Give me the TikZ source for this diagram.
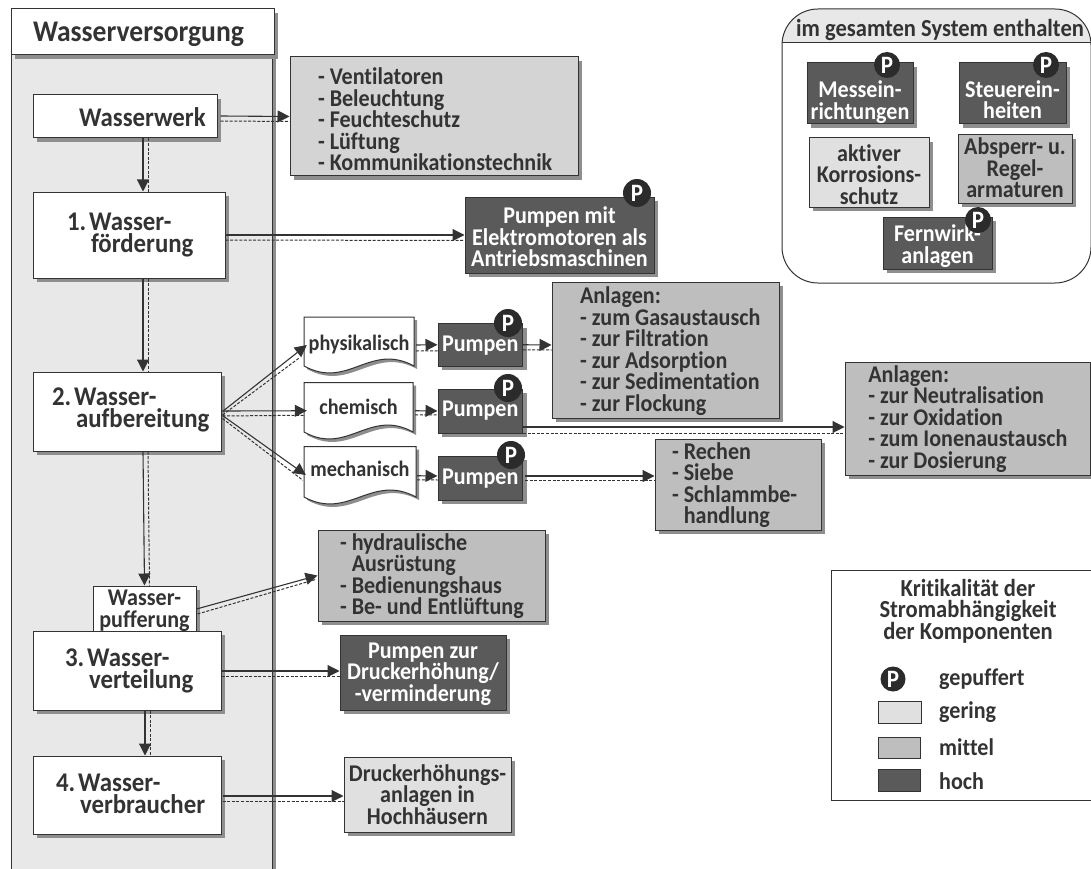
\documentclass[tikz,border=0pt]{standalone}
\usepackage{fontspec}
\usepackage{array}
\setmainfont[FakeStretch=0.92,Ligatures=NoCommon]{Carlito}
\usetikzlibrary{shadows,arrows.meta}
\definecolor{ink}{HTML}{333333}
\definecolor{shadegray}{HTML}{8E8E8E}
\definecolor{panelgray}{HTML}{E8E8E8}
\definecolor{lowgray}{HTML}{E0E0E0}
\definecolor{ventgray}{HTML}{D4D4D4}
\definecolor{midgray}{HTML}{BEBEBE}
\definecolor{highgray}{HTML}{5A5A5A}
\definecolor{pgray}{HTML}{2B2B2B}
\newcommand\fsz[2]{\fontsize{#1}{#2}\selectfont\bfseries}
\tikzset{
  base/.style={draw=ink,line width=1pt,inner sep=0pt,text=ink,align=center,font=\fsz{24}{21.5},
    drop shadow={shadow xshift=4pt,shadow yshift=-4pt,fill=shadegray,opacity=1}},
  whitebox/.style={base,fill=white,font=\fsz{27}{22}},
  ventbox/.style={base,fill=ventgray},
  lowbox/.style={base,fill=lowgray},
  midbox/.style={base,fill=midgray},
  highbox/.style={base,fill=highgray,text=white},
  pmark/.style={circle,fill=pgray,text=white,inner sep=0pt,minimum size=28pt,font=\fsz{25}{25}},
  flow/.style={draw=ink,line width=1.1pt,-{Triangle[length=12pt,width=12pt]}},
  flowdash/.style={draw=ink,line width=1pt,dash pattern=on 3pt off 1.6pt},
  docshape/.style={draw=ink,line width=1pt,fill=white},
  doctext/.style={inner sep=0pt,text=ink,align=center,font=\fsz{22}{21}},
  legendtext/.style={inner sep=0pt,text=ink,font=\fsz{24}{21},anchor=west},
  swatch/.style={draw=ink,line width=0.8pt,inner sep=0pt}
}
% box by corners
\newcommand\bx[7]{%
  \pgfmathsetmacro\myCx{(#3+#5)/2}\pgfmathsetmacro\myCy{(#4+#6)/2}%
  \pgfmathsetmacro\myW{#5-#3}\pgfmathsetmacro\myH{#6-#4}%
  \node[#1,minimum width=\myW pt,minimum height=\myH pt] (#2) at (\myCx,\myCy) {#7};}
% text block with fixed line pitch: alignment, lowering, lines
\newcommand\tb[3]{\raisebox{-#2pt}[0pt][0pt]{\begin{tabular}{@{}>{\setbox0=\hbox\bgroup}#1<{\egroup\ht0=0pt\dp0=0pt\box0}@{}}#3\end{tabular}}}
% left set text block: width, left pad, lowering, lines
\newcommand\ltx[4]{\makebox[#1pt][l]{\hspace*{#2pt}\tb{l}{#3}{#4}}}
\newcommand\ind{\hspace*{24pt}}
% paper with a wavy lower edge
\newcommand\docbx[6]{%
  \pgfmathsetmacro\myCx{(#2+#4)/2}\pgfmathsetmacro\myCy{(#3+#5)/2}%
  \pgfmathsetmacro\myW{#4-#2}\pgfmathsetmacro\myH{#5-#3}%
  \fill[shadegray,shift={(3,3)}] (#2,#3) -- (#4,#3) -- (#4,#5) .. controls (#2+0.6*\myW,#5-24) and (#2+0.4*\myW,#5+24) .. (#2,#5) -- cycle;
  \draw[docshape] (#2,#3) -- (#4,#3) -- (#4,#5) .. controls (#2+0.6*\myW,#5-24) and (#2+0.4*\myW,#5+24) .. (#2,#5) -- cycle;
  \node[doctext,minimum width=\myW pt,minimum height=\myH pt] (#1) at (\myCx,\myCy) {#6};}
% solid arrow + dashed companion, named ends with offsets
\newcommand\pairlink[6]{%
  \draw[flowdash] ([shift={(#5)}]#1) -- ([shift={(#6)}]#3);
  \draw[flow] ([shift={(#2)}]#1) -- ([shift={(#4)}]#3);}
\begin{document}
\begin{tikzpicture}[x=1pt,y=-1pt]
\useasboundingbox (0,0) rectangle (1091,869);
% panel
\fill[shadegray] (15,55) rectangle (276,869);
\fill[panelgray] (11,55) rectangle (272,869);
\draw[ink,line width=1pt] (11,55) -- (11,869) (272,55) -- (272,869);
\bx{whitebox,font=\fsz{30}{30}}{title}{11}{9}{274}{55}{\hspace*{-8pt}\tb{c}{9.5}{Wasserversorgung}}

% left column
\bx{whitebox,font=\fsz{24}{21.5}}{pumpbuf}{93}{586}{196}{645}{\tb{c}{3}{Wasser-\\pufferung}}
\bx{whitebox}{werk}{33}{95}{217}{138}{\ltx{184}{46}{12}{Wasserwerk}}
\bx{whitebox}{foerd}{33}{192}{225}{278}{\ltx{192}{34}{8}{1.\hspace{3pt}Wasser-\\\ind förderung}}
\bx{whitebox}{aufb}{33}{372}{221}{451}{\ltx{188}{19}{6.5}{2.\hspace{3pt}Wasser-\\\ind aufbereitung}}
\bx{whitebox}{vert}{33}{631}{221}{710}{\ltx{188}{32}{8.5}{3.\hspace{3pt}Wasser-\\\ind verteilung}}
\bx{whitebox}{verb}{33}{756}{221}{834}{\ltx{188}{23}{9}{4.\hspace{3pt}Wasser-\\\ind verbraucher}}

% consumers
\bx{ventbox}{vent}{290}{57}{578}{176}{\ltx{288}{28}{13}{- Ventilatoren\\- Beleuchtung\\- Feuchteschutz\\- Lüftung\\- Kommunikationstechnik}}
\bx{highbox}{pumot}{465}{197}{654}{273}{\tb{c}{12}{Pumpen mit\\Elektromotoren als\\Antriebsmaschinen}}
\node[pmark] (p1) at (637,193) {P};

\docbx{phys}{304}{317}{414}{366}{\tb{c}{10}{physikalisch}}
\docbx{chem}{304}{382.5}{413}{432}{\tb{c}{8.5}{chemisch}}
\docbx{mech}{304}{446.5}{416}{497}{\tb{c}{6}{mechanisch}}

\bx{highbox}{pu1}{438}{323.5}{522.5}{366}{\tb{c}{9}{Pumpen}}
\node[pmark] (p2) at (508,323) {P};
\bx{highbox}{pu2}{438}{389}{522.5}{433}{\tb{c}{7.5}{Pumpen}}
\node[pmark] (p3) at (508,388) {P};
\bx{highbox}{pu3}{438}{456}{522.5}{500}{\tb{c}{8}{Pumpen}}
\node[pmark] (p4) at (511,455) {P};

\bx{midbox}{anl1}{552}{282}{779}{418}{\ltx{227}{28}{9.5}{Anlagen:\\- zum Gasaustausch\\- zur Filtration\\- zur Adsorption\\- zur Sedimentation\\- zur Flockung}}
\bx{midbox}{anl2}{845}{362}{1090.5}{475}{\ltx{245}{23}{8.5}{Anlagen:\\- zur Neutralisation\\- zur Oxidation\\- zum Ionenaustausch\\- zur Dosierung}}
\bx{midbox}{rech}{655}{439}{821}{530}{\ltx{166}{17}{9}{- Rechen\\- Siebe\\- Schlammbe-\\\phantom{- }handlung}}
\bx{midbox}{hydr}{318}{530}{545}{621}{\ltx{227}{22}{9}{- hydraulische\\\phantom{- }Ausrüstung\\- Bedienungshaus\\- Be- und Entlüftung}}
\bx{highbox}{pzur}{340}{635}{506}{710}{\tb{c}{9}{Pumpen zur\\Druckerhöhung/\\-verminderung}}
\bx{lowbox}{hoch}{344}{757}{511}{832}{\tb{c}{10}{Druckerhöhungs-\\anlagen in\\Hochhäusern}}

% connectors
\pairlink{werk.south}{18,0}{foerd.north}{14,0}{23,0}{19,0}
\pairlink{foerd.south}{14,0}{aufb.north}{16,0}{19,0}{21,0}
\pairlink{aufb.south}{16,0}{pumpbuf.north}{0,0}{21,0}{5,0}
\pairlink{vert.south}{18,0}{verb.north}{18,0}{23,0}{23,0}
\pairlink{werk.east}{3,-0.5}{vent.west}{0,0}{3,4.5}{0,5}
\pairlink{foerd.east}{0,0}{pumot.west}{0,0}{0,5}{0,5.5}
\pairlink{aufb.east}{1,0}{phys.west}{3,3.5}{1,3.5}{-4,16}
\pairlink{aufb.east}{1,-0.5}{chem.west}{3,3.5}{1,4.5}{0,8}
\pairlink{aufb.east}{1,4}{mech.west}{2,3.25}{1,7}{-1,8.5}
\pairlink{phys.east}{2,3.5}{pu1.west}{0,0}{2,9.5}{0,6}
\pairlink{chem.east}{2,3.5}{pu2.west}{0,0}{2,7.5}{0,4}
\pairlink{mech.east}{1,4}{pu3.west}{0,-2}{1,8}{0,2}
\pairlink{pu1.east}{0,0}{anl1.west}{0,-5}{0,5}{0,0}
\pairlink{pu2.east}{0,16}{anl2.west}{0,8.5}{0,22}{0,14.5}
\pairlink{pu3.east}{2,-2}{rech.west}{0,-8.5}{2,2.5}{0,-4}
\pairlink{pumpbuf.east}{0,-6.5}{hydr.west}{0,0}{1,-1.5}{-2,4}
\pairlink{vert.east}{0,0.5}{pzur.west}{0,-1.5}{0,5.5}{0,3.5}
\pairlink{verb.east}{1,1}{hoch.west}{0,1.5}{1,6}{0,6.5}

% system box
\begin{scope}
\clip[rounded corners=36pt] (782,9) rectangle (1091,283);
\fill[panelgray] (782,9) rectangle (1091,43);
\draw[ink,line width=1pt] (782,43) -- (1091,43);
\end{scope}
\draw[ink,line width=1pt,rounded corners=36pt] (782,9) rectangle (1091,283);
\node[inner sep=0pt,text=ink,font=\fsz{24.5}{24}] (systitle) at (940,30) {im gesamten System enthalten};
\bx{highbox}{mess}{807}{63}{913}{124}{\tb{c}{17}{Messein-\\richtungen}}
\node[pmark,minimum size=26pt] (p5) at (887,65) {P};
\bx{highbox}{steu}{959}{63}{1066}{124}{\tb{c}{16.5}{Steuerein-\\heiten}}
\node[pmark,minimum size=26pt] (p6) at (1046,65) {P};
\bx{lowbox}{kors}{809}{138}{929}{207}{\tb{c}{12}{aktiver\\Korrosions-\\schutz}}
\bx{midbox}{arma}{958}{135}{1072}{203}{\tb{c}{9}{Absperr- u.\\Regel-\\armaturen}}
\bx{highbox}{fern}{883}{217}{992}{269}{\tb{c}{11.5}{Fernwirk-\\anlagen}}
\node[pmark,minimum size=26pt] (p7) at (978,220) {P};

% legend
\draw[ink,line width=0.9pt] (1095,570) -- (831,570) -- (831,800) -- (1095,800);
\node[inner sep=0pt,text=ink,font=\fsz{24.5}{21.5}] (legtitle) at (968,610) {\tb{c}{9.5}{Kritikalität der\\Stromabhängigkeit\\der Komponenten}};
\node[pmark,minimum size=25pt] (legp) at (893,679) {P};
\node[legendtext] (lg1) at (939,679) {gepuffert};
\bx{swatch,fill=lowgray}{sw1}{878}{701}{921}{723}{}
\node[legendtext] (lg2) at (939,712) {gering};
\bx{swatch,fill=midgray}{sw2}{878}{737}{920}{758}{}
\node[legendtext] (lg3) at (939,747) {mittel};
\bx{swatch,fill=highgray}{sw3}{878}{769}{920}{791}{}
\node[legendtext] (lg4) at (939,781) {hoch};
\end{tikzpicture}
\end{document}
